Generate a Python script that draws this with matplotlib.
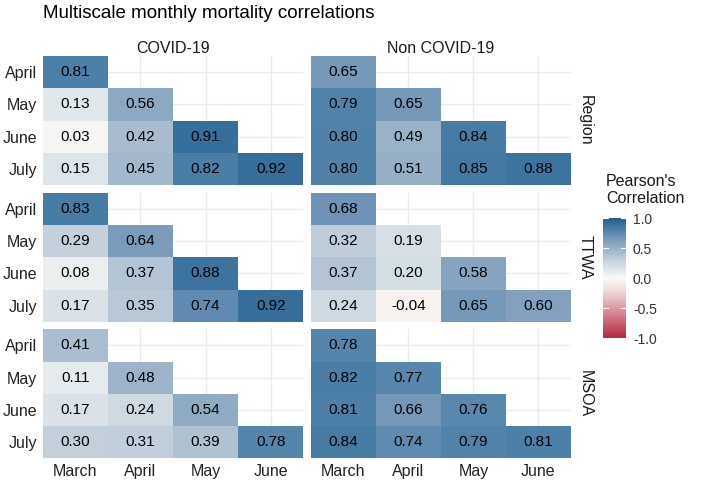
import numpy as np
import matplotlib
matplotlib.use("Agg")
import matplotlib.pyplot as plt
from matplotlib.colors import LinearSegmentedColormap, Normalize

plt.rcParams["font.family"] = ["Liberation Sans", "DejaVu Sans"]

# dados
months_x = ["March", "April", "May", "June"]
months_y = ["April", "May", "June", "July"]
causes = ["COVID-19", "Non COVID-19"]
scales = ["Region", "TTWA", "MSOA"]

covid_region = [[0.81], [0.13, 0.56], [0.03, 0.42, 0.91], [0.15, 0.45, 0.82, 0.92]]
noncovid_region = [[0.65], [0.79, 0.65], [0.80, 0.49, 0.84], [0.80, 0.51, 0.85, 0.88]]
covid_ttwa = [[0.83], [0.29, 0.64], [0.08, 0.37, 0.88], [0.17, 0.35, 0.74, 0.92]]
noncovid_ttwa = [[0.68], [0.32, 0.19], [0.37, 0.20, 0.58], [0.24, -0.04, 0.65, 0.60]]
covid_msoa = [[0.41], [0.11, 0.48], [0.17, 0.24, 0.54], [0.30, 0.31, 0.39, 0.78]]
noncovid_msoa = [[0.78], [0.82, 0.77], [0.81, 0.66, 0.76], [0.84, 0.74, 0.79, 0.81]]

panels = {
    ("Region", "COVID-19"): covid_region,
    ("Region", "Non COVID-19"): noncovid_region,
    ("TTWA", "COVID-19"): covid_ttwa,
    ("TTWA", "Non COVID-19"): noncovid_ttwa,
    ("MSOA", "COVID-19"): covid_msoa,
    ("MSOA", "Non COVID-19"): noncovid_msoa,
}

# escala de cores (vermelho -> branco -> azul)
stops = [(-1.0, "#b3283f"), (-0.5, "#dc9aa5"), (-0.2, "#f2dcdc"), (0.0, "#faf8f6"),
         (0.15, "#dde5ea"), (0.3, "#c3d0dc"), (0.42, "#a9bccf"), (0.56, "#8ca8c2"),
         (0.7, "#6c91b5"), (0.81, "#4d80a8"), (0.92, "#356e9b"), (1.0, "#225d8e")]
cmap = LinearSegmentedColormap.from_list("corr", [((v + 1) / 2, c) for v, c in stops])
norm = Normalize(-1, 1)

W, H = 703, 482
fig = plt.figure(figsize=(W / 100, H / 100), dpi=100)

def box(x0, y0, x1, y1):
    return [x0 / W, 1 - y1 / H, (x1 - x0) / W, (y1 - y0) / H]

col_x = [(42.7, 303.3), (310.7, 571.0)]
row_y = [(56.0, 185.2), (192.6, 321.8), (329.2, 458.4)]

for r, sc in enumerate(scales):
    for c, cause in enumerate(causes):
        ax = fig.add_axes(box(col_x[c][0], row_y[r][0], col_x[c][1], row_y[r][1]))
        data = panels[(sc, cause)]
        mat = np.full((4, 4), np.nan)
        for i, row in enumerate(data):
            for j, v in enumerate(row):
                mat[i, j] = v
        ax.pcolormesh(np.arange(5) - 0.5, np.arange(5) - 0.5, np.ma.masked_invalid(mat),
                      cmap=cmap, norm=norm, zorder=2)
        for i, row in enumerate(data):
            for j, v in enumerate(row):
                ax.text(j, i, f"{v:.2f}", ha="center", va="center", fontsize=11,
                        color="black", zorder=3)
        ax.set_xlim(-0.5, 3.5)
        ax.set_ylim(3.5, -0.5)
        ax.set_xticks(range(4))
        ax.set_yticks(range(4))
        ax.grid(True, color="#ebebeb", lw=1.0, zorder=0)
        ax.set_axisbelow(True)
        for s in ax.spines.values():
            s.set_visible(False)
        ax.tick_params(length=0, labelsize=11.5, labelcolor="#222222", pad=4)
        if c == 0:
            ax.set_yticklabels(months_y)
        else:
            ax.set_yticklabels([])
        if r == 2:
            ax.set_xticklabels(months_x)
        else:
            ax.set_xticklabels([])
        if r == 0:
            ax.text(0.5, 1.0, cause, transform=ax.transAxes, ha="center", va="bottom",
                    fontsize=11.5, color="#1a1a1a")
        if c == 1:
            ax.text(1.025, 0.5, sc, transform=ax.transAxes, ha="left", va="center",
                    rotation=-90, fontsize=11.5, color="#1a1a1a")

fig.text(43 / W, 1 - 14 / H, "Multiscale monthly mortality correlations",
         ha="left", va="center", fontsize=13.5, color="black")

# legenda
cax = fig.add_axes(box(603, 218, 626, 338))
sm = plt.cm.ScalarMappable(cmap=cmap, norm=norm)
cb = fig.colorbar(sm, cax=cax, ticks=[-1, -0.5, 0, 0.5, 1])
cb.outline.set_visible(False)
cb.ax.set_yticklabels(["-1.0", "-0.5", "0.0", "0.5", "1.0"])
cb.ax.tick_params(length=0, labelsize=10, labelcolor="#333333", pad=5)
for t in [-1, -0.5, 0, 0.5, 1]:
    cax.plot([0, 0.2], [t, t], color="white", lw=0.8, transform=cax.get_yaxis_transform())
    cax.plot([0.8, 1.0], [t, t], color="white", lw=0.8, transform=cax.get_yaxis_transform())
fig.text(606 / W, 1 - 174 / H, "Pearson's\nCorrelation", ha="left", va="top",
         fontsize=11.5, color="#1a1a1a", linespacing=1.15)

fig.savefig("out.png", dpi=100)
